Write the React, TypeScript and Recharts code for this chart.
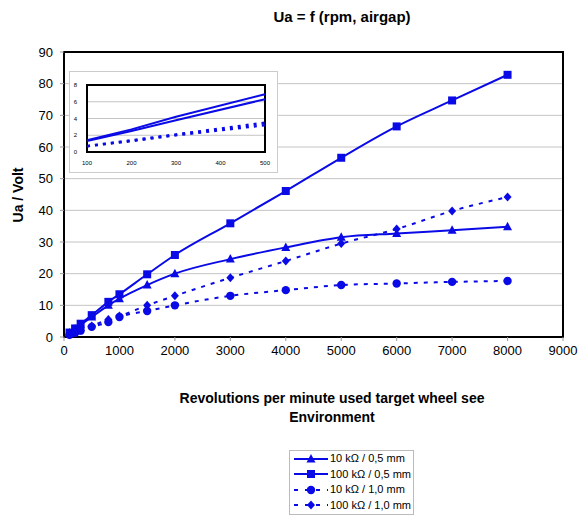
import { LineChart, Line, XAxis, YAxis, CartesianGrid, ReferenceArea } from 'recharts';

const rpm = [100, 200, 300, 500, 800, 1000, 1500, 2000, 3000, 4000, 5000, 6000, 7000, 8000];
const tri05 = [1.3, 2.5, 3.8, 6.3, 10.0, 12.1, 16.4, 20.0, 24.6, 28.3, 31.5, 32.7, 33.7, 34.8];
const sq05 = [1.4, 2.7, 4.2, 6.9, 11.1, 13.5, 19.8, 25.9, 35.9, 46.1, 56.6, 66.5, 74.7, 82.8];
const circ10 = [0.7, 1.3, 2.0, 3.2, 4.7, 6.3, 8.2, 10.0, 13.0, 14.8, 16.4, 16.9, 17.4, 17.7];
const dia10 = [0.7, 1.4, 2.1, 3.5, 5.5, 6.6, 10.0, 13.0, 18.7, 24.0, 29.5, 34.1, 39.8, 44.2];

const xTicks = [0, 1000, 2000, 3000, 4000, 5000, 6000, 7000, 8000, 9000];
const yTicks = [0, 10, 20, 30, 40, 50, 60, 70, 80, 90];
const insetXTicks = [100, 200, 300, 400, 500];
const insetYTicks = [0, 2, 4, 6, 8];

const names = ['10 kΩ / 0,5 mm', '100 kΩ / 0,5 mm', '10 kΩ / 1,0 mm', '100 kΩ / 1,0 mm'];

const BLUE = '#0a0ae6';
const FONT = '"Liberation Sans", Arial, sans-serif';

const rows = rpm.map((r, i) => ({ rpm: r, tri: tri05[i], sq: sq05[i], circ: circ10[i], dia: dia10[i] }));
const insetRows = rows.filter((r) => r.rpm <= 500);

// marker shapes
const shape = (kind: string, cx: number, cy: number, key?: any) => {
  if (kind === 'tri') return <polygon key={key} points={`${cx},${cy - 5} ${cx - 4.5},${cy + 3.5} ${cx + 4.5},${cy + 3.5}`} fill={BLUE} />;
  if (kind === 'sq') return <rect key={key} x={cx - 4} y={cy - 4} width={8} height={8} fill={BLUE} />;
  if (kind === 'circ') return <circle key={key} cx={cx} cy={cy} r={4.2} fill={BLUE} />;
  return <polygon key={key} points={`${cx},${cy - 4.5} ${cx + 4},${cy} ${cx},${cy + 4.5} ${cx - 4},${cy}`} fill={BLUE} />;
};

const dot = (kind: string) => (props: any) => {
  const { cx, cy, index } = props;
  if (cx == null || cy == null) return <g key={index} />;
  return shape(kind, cx, cy, index);
};

const series = [
  { key: 'tri', dash: undefined },
  { key: 'sq', dash: undefined },
  { key: 'circ', dash: '4 6' },
  { key: 'dia', dash: '4 6' },
];

const Legend = () => (
  <div style={{ position: 'absolute', left: 289, top: 450, width: 123, height: 63, border: '1px solid #bbb', background: '#fff' }}>
    {series.map((s, i) => (
      <div key={s.key} style={{ display: 'flex', alignItems: 'center', height: 15.5, fontSize: 11, lineHeight: '15px' }}>
        <svg width={38} height={14} style={{ marginLeft: 2 }}>
          <line x1={2} y1={7} x2={36} y2={7} stroke={BLUE} strokeWidth={2} strokeDasharray={s.dash ? '4 7' : undefined} />
          {shape(s.key, 19, 7)}
        </svg>
        <span>{names[i]}</span>
      </div>
    ))}
  </div>
);

export default function App() {
  return (
    <div style={{ position: 'absolute', left: 0, top: 0, width: 584, height: 516, background: '#fff', fontFamily: FONT, color: '#000' }}>
      <div style={{ position: 'absolute', left: 192, top: 8, width: 300, textAlign: 'center', fontWeight: 'bold', fontSize: 15 }}>
        Ua = f (rpm, airgap)
      </div>
      <LineChart width={584} height={516} data={rows} margin={{ top: 52, right: 21, bottom: 149, left: 0 }}>
        <CartesianGrid vertical={false} stroke="#c4c4c4" />
        <XAxis
          dataKey="rpm"
          type="number"
          domain={[0, 9000]}
          ticks={xTicks}
          interval={0}
          axisLine={false}
          height={30}
          tickSize={4}
          tickMargin={5}
          tickLine={{ stroke: '#999' }}
          tick={{ fontSize: 13, fill: '#000', fontFamily: FONT }}
        />
        <YAxis
          type="number"
          domain={[0, 90]}
          ticks={yTicks}
          interval={0}
          width={64}
          axisLine={false}
          tickSize={4}
          tickMargin={7}
          tickLine={{ stroke: '#999' }}
          tick={{ fontSize: 13, fill: '#000', fontFamily: FONT }}
        />
        <ReferenceArea x1={0} x2={9000} y1={0} y2={90} fill="none" fillOpacity={0} stroke="#000" strokeWidth={2} />
        {series.map((s) => (
          <Line
            key={s.key}
            dataKey={s.key}
            type="monotone"
            stroke={BLUE}
            strokeWidth={2}
            strokeDasharray={s.dash}
            dot={dot(s.key)}
            activeDot={false}
            isAnimationActive={false}
          />
        ))}
      </LineChart>
      <div style={{ position: 'absolute', left: 6, top: 195, transform: 'translate(0, -50%) rotate(-90deg)', transformOrigin: 'center', fontWeight: 'bold', fontSize: 14, width: 24, display: 'flex', justifyContent: 'center', whiteSpace: 'nowrap' }}>
        Ua / Volt
      </div>
      <div style={{ position: 'absolute', left: 100, top: 389, width: 464, textAlign: 'center', fontWeight: 'bold', fontSize: 14, lineHeight: '19px' }}>
        Revolutions per minute used target wheel see
        <br />
        Environment
      </div>
      <div style={{ position: 'absolute', left: 69, top: 71, width: 207, height: 100, background: '#fff', border: '1px solid #ccc' }}>
        <LineChart width={207} height={100} data={insetRows} margin={{ top: 13, right: 12, bottom: 8, left: 0 }}>
          <CartesianGrid vertical={false} stroke="#c4c4c4" />
          <XAxis
            dataKey="rpm"
            type="number"
            domain={[100, 500]}
            ticks={insetXTicks}
            interval={0}
            height={12}
            axisLine={false}
            tickLine={false}
            tickMargin={3}
            tick={{ fontSize: 6, fill: '#000', fontFamily: FONT }}
          />
          <YAxis
            type="number"
            domain={[0, 8]}
            ticks={insetYTicks}
            interval={0}
            width={17}
            axisLine={false}
            tickLine={false}
            tickMargin={4}
            tick={{ fontSize: 6, fill: '#000', fontFamily: FONT }}
          />
          <ReferenceArea x1={100} x2={500} y1={0} y2={8} fill="none" fillOpacity={0} stroke="#000" strokeWidth={2} />
          {series.map((s) => (
            <Line
              key={s.key}
              dataKey={s.key}
              type="linear"
              stroke={BLUE}
              strokeWidth={s.dash ? 2.5 : 2}
              strokeDasharray={s.dash ? '3 5' : undefined}
              dot={false}
              activeDot={false}
              isAnimationActive={false}
            />
          ))}
        </LineChart>
      </div>
      <Legend />
    </div>
  );
}
